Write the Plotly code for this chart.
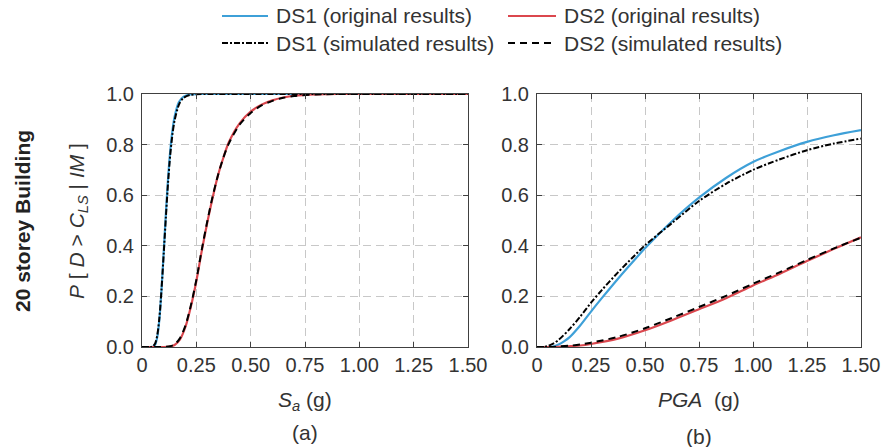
import plotly.graph_objects as go

# ---------------- data ----------------
# Panel (a): intensity measure Sa (g)
sa_ds1_orig_x = [0.0, 0.04, 0.05, 0.06, 0.07, 0.08, 0.09, 0.10, 0.11, 0.12, 0.13, 0.14, 0.15, 0.17, 0.19, 0.22, 0.25, 0.30, 0.50, 0.75, 1.00, 1.25, 1.50]
sa_ds1_orig_y = [0.0, 0.0, 0.001, 0.008, 0.038, 0.11, 0.23, 0.377, 0.53, 0.667, 0.775, 0.855, 0.91, 0.968, 0.989, 0.998, 1.0, 1.0, 1.0, 1.0, 1.0, 1.0, 1.0]
sa_ds1_sim_x = [0.0, 0.04, 0.05, 0.06, 0.07, 0.08, 0.09, 0.10, 0.11, 0.12, 0.13, 0.14, 0.15, 0.17, 0.19, 0.22, 0.25, 0.30, 0.50, 0.75, 1.00, 1.25, 1.50]
sa_ds1_sim_y = [0.0, 0.0, 0.003, 0.013, 0.045, 0.115, 0.23, 0.37, 0.515, 0.65, 0.76, 0.84, 0.895, 0.958, 0.984, 0.996, 0.999, 1.0, 1.0, 1.0, 1.0, 1.0, 1.0]
sa_ds2_orig_x = [0.0, 0.10, 0.13, 0.15, 0.175, 0.20, 0.225, 0.25, 0.275, 0.30, 0.325, 0.35, 0.375, 0.40, 0.45, 0.50, 0.55, 0.60, 0.65, 0.70, 0.80, 0.90, 1.00, 1.25, 1.50]
sa_ds2_orig_y = [0.0, 0.0, 0.002, 0.008, 0.03, 0.08, 0.16, 0.26, 0.38, 0.49, 0.59, 0.68, 0.75, 0.81, 0.885, 0.93, 0.958, 0.975, 0.986, 0.993, 0.998, 1.0, 1.0, 1.0, 1.0]
sa_ds2_sim_x = [0.0, 0.10, 0.13, 0.15, 0.175, 0.20, 0.225, 0.25, 0.275, 0.30, 0.325, 0.35, 0.375, 0.40, 0.45, 0.50, 0.55, 0.60, 0.65, 0.70, 0.80, 0.90, 1.00, 1.25, 1.50]
sa_ds2_sim_y = [0.0, 0.0, 0.003, 0.01, 0.035, 0.085, 0.165, 0.265, 0.385, 0.495, 0.595, 0.68, 0.75, 0.805, 0.88, 0.925, 0.955, 0.973, 0.985, 0.992, 0.998, 1.0, 1.0, 1.0, 1.0]

# Panel (b): intensity measure PGA (g)
pga_ds1_orig_x = [0.0, 0.05, 0.075, 0.10, 0.125, 0.15, 0.20, 0.25, 0.30, 0.375, 0.45, 0.50, 0.625, 0.75, 0.875, 1.00, 1.125, 1.25, 1.375, 1.50]
pga_ds1_orig_y = [0.0, 0.0, 0.002, 0.01, 0.022, 0.038, 0.085, 0.14, 0.193, 0.27, 0.343, 0.39, 0.497, 0.59, 0.668, 0.731, 0.775, 0.811, 0.837, 0.857]
pga_ds1_sim_x = [0.0, 0.025, 0.05, 0.075, 0.10, 0.15, 0.20, 0.25, 0.30, 0.375, 0.45, 0.50, 0.625, 0.75, 0.875, 1.00, 1.125, 1.25, 1.375, 1.50]
pga_ds1_sim_y = [0.0, 0.0, 0.004, 0.013, 0.028, 0.07, 0.12, 0.175, 0.225, 0.295, 0.36, 0.402, 0.49, 0.577, 0.645, 0.70, 0.742, 0.778, 0.804, 0.824]
pga_ds2_orig_x = [0.0, 0.05, 0.10, 0.15, 0.20, 0.25, 0.375, 0.50, 0.625, 0.75, 0.875, 1.00, 1.125, 1.25, 1.375, 1.50]
pga_ds2_orig_y = [0.0, 0.0, 0.001, 0.003, 0.006, 0.012, 0.033, 0.066, 0.106, 0.149, 0.193, 0.243, 0.29, 0.34, 0.388, 0.434]
pga_ds2_sim_x = [0.0, 0.05, 0.10, 0.15, 0.20, 0.25, 0.375, 0.50, 0.625, 0.75, 0.875, 1.00, 1.125, 1.25, 1.375, 1.50]
pga_ds2_sim_y = [0.0, 0.0, 0.002, 0.005, 0.01, 0.017, 0.04, 0.074, 0.115, 0.158, 0.202, 0.25, 0.296, 0.344, 0.39, 0.432]

x_tickvals = [0, 0.25, 0.5, 0.75, 1.0, 1.25, 1.5]
x_ticktext = ["0", "0.25", "0.50", "0.75", "1.00", "1.25", "1.50"]
y_tickvals = [0, 0.2, 0.4, 0.6, 0.8, 1.0]
y_ticktext = ["0.0", "0.2", "0.4", "0.6", "0.8", "1.0"]

legend_names = ["DS1 (original results)", "DS2 (original results)",
                "DS1 (simulated results)", "DS2 (simulated results)"]

# ---------------- styles ----------------
W, H = 881, 447
FONT = "Liberation Sans, Arial, sans-serif"
FS = 21
TFS = 20
BLUE = "#3EA0D8"
RED = "#DB474E"
BLACK = "#000000"
styles = [
    dict(color=BLUE, width=2.2, dash="solid"),
    dict(color=RED, width=2.2, dash="solid"),
    dict(color=BLACK, width=2.0, dash="6px,2px,2px,2px"),
    dict(color=BLACK, width=2.0, dash="7px,5px"),
]

fig = go.Figure()

panels = [
    ("x", "y", [(sa_ds1_orig_x, sa_ds1_orig_y), (sa_ds2_orig_x, sa_ds2_orig_y),
                (sa_ds1_sim_x, sa_ds1_sim_y), (sa_ds2_sim_x, sa_ds2_sim_y)]),
    ("x2", "y2", [(pga_ds1_orig_x, pga_ds1_orig_y), (pga_ds2_orig_x, pga_ds2_orig_y),
                  (pga_ds1_sim_x, pga_ds1_sim_y), (pga_ds2_sim_x, pga_ds2_sim_y)]),
]
for xa, ya, series in panels:
    for (xs, ys), name, st in zip(series, legend_names, styles):
        fig.add_trace(go.Scatter(
            x=xs, y=ys, mode="lines", name=name, showlegend=False,
            line=dict(color=st["color"], width=st["width"], dash=st["dash"],
                      shape="spline", smoothing=0.8),
            xaxis=xa, yaxis=ya, hoverinfo="skip"))

def px(x):
    return x / W

def py(y):
    return 1 - y / H

axis_common = dict(
    showline=True, linecolor="#404040", linewidth=1, mirror="ticks",
    ticks="inside", ticklen=5, tickcolor="#404040", tickwidth=1,
    showgrid=True, gridcolor="#C8C8C8", gridwidth=1, griddash="8px,5px",
    zeroline=False, tickfont=dict(family=FONT, size=TFS, color="#333333"),
    fixedrange=True, automargin=False,
)

fig.update_layout(
    width=W, height=H, margin=dict(l=0, r=0, t=0, b=0, autoexpand=False),
    paper_bgcolor="white", plot_bgcolor="white", showlegend=False,
    font=dict(family=FONT, size=FS, color="#333333"),
    xaxis=dict(domain=[px(142), px(468)], range=[0, 1.5], anchor="y",
               tickvals=x_tickvals, ticktext=x_ticktext, **axis_common),
    yaxis=dict(domain=[py(347), py(94)], range=[0, 1], anchor="x",
               tickvals=y_tickvals, ticktext=y_ticktext, ticklabelstandoff=3, **axis_common),
    xaxis2=dict(domain=[px(537), px(861)], range=[0, 1.5], anchor="y2",
                tickvals=x_tickvals, ticktext=x_ticktext, **axis_common),
    yaxis2=dict(domain=[py(347), py(94)], range=[0, 1], anchor="x2",
                tickvals=y_tickvals, ticktext=y_ticktext, ticklabelstandoff=3, **axis_common),
)

ann = []
def add_text(text, x, y, xanchor="center", yanchor="middle", angle=0, size=FS, color="#333333"):
    ann.append(dict(text=text, x=px(x), y=py(y), xref="paper", yref="paper",
                    xanchor=xanchor, yanchor=yanchor, textangle=angle,
                    showarrow=False, font=dict(family=FONT, size=size, color=color)))

add_text("<i>S</i><sub><i>a</i></sub> (g)", 305, 401)
add_text("(a)", 305, 432)
add_text("<i>PGA</i>\u00a0\u00a0(g)", 699, 399)
add_text("(b)", 699, 436)
add_text("<i>P</i> [ <i>D</i> &gt; <i>C</i><sub><i>LS</i></sub> | <i>IM</i> ]", 78, 221, angle=-90)
add_text("<b>20 storey Building</b>", 22, 221, angle=-90, color="#222222")

# manual legend (2 columns x 2 rows)
shapes = []
leg_rows = [16, 43]
leg_cols = [(222, 268), (508, 556)]
for i, (name, st) in enumerate(zip(legend_names, styles)):
    r, c = divmod(i, 2)
    x0, x1 = leg_cols[c]
    yy = leg_rows[r]
    shapes.append(dict(type="line", xref="paper", yref="paper",
                       x0=px(x0), x1=px(x1), y0=py(yy), y1=py(yy),
                       line=dict(color=st["color"], width=st["width"], dash=st["dash"])))
    add_text(name, x1 + 6, yy, xanchor="left")

fig.update_layout(annotations=ann, shapes=shapes)
fig.write_html("out.html", config={"displayModeBar": False, "staticPlot": True},
               post_script="document.body.style.margin='0';document.body.style.overflow='hidden';")
